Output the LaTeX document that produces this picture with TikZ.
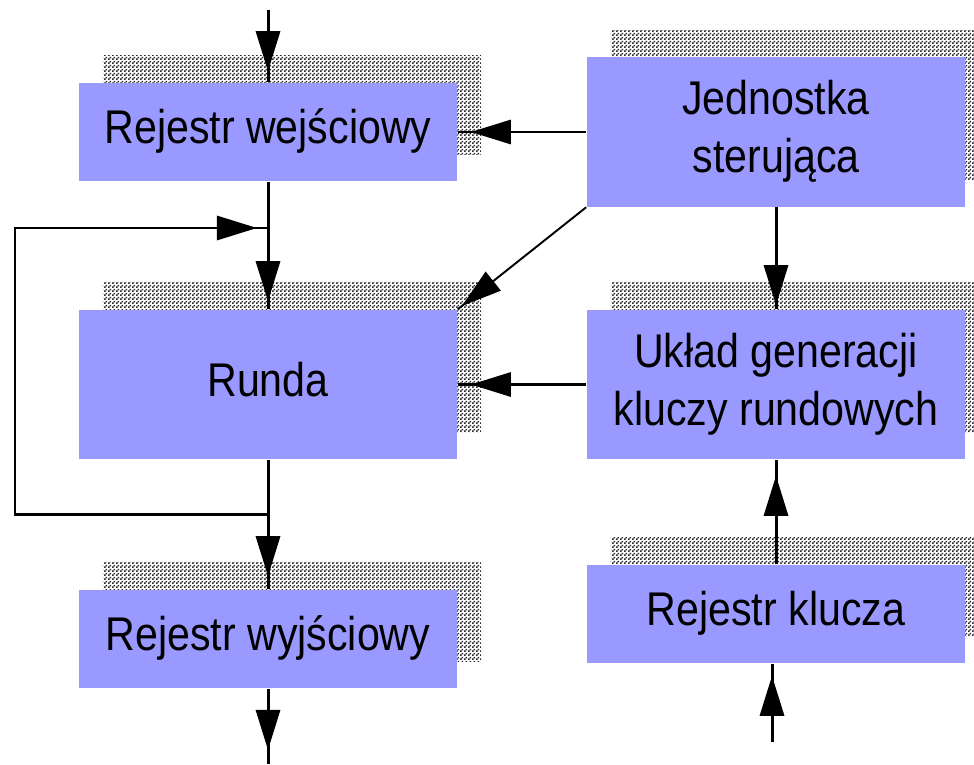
\documentclass[tikz,border=0pt]{standalone}
\usepackage{fontspec}
\setmainfont{Liberation Sans}
\usetikzlibrary{arrows.meta,decorations.markings,shadows,patterns.meta}

\definecolor{boxblue}{RGB}{153,153,255}
% dithered shadow fill
\tikzdeclarepattern{
  name=checker,
  type=uncolored,
  bounding box={(0cm,0cm) and (0.04cm,0.04cm)},
  tile size={(0.04cm,0.04cm)},
  code={\fill (0cm,0cm) rectangle (0.02cm,0.02cm) (0.02cm,0.02cm) rectangle (0.04cm,0.04cm);}
}
\newcommand{\blk}[1]{\scalebox{1}[1.15]{\begin{tabular}{@{}c@{}}#1\end{tabular}}}

\begin{document}
\begin{tikzpicture}[x=0.01cm,y=-0.01cm,>={Triangle[length=0.4cm,width=0.24cm]},
  blok/.style={rectangle,fill=boxblue,inner sep=0pt,minimum width=3.78cm,
    font=\fontsize{11.7pt}{14.4pt}\selectfont,
    general shadow={shadow xshift=0.24cm,shadow yshift=0.27cm,pattern=checker,pattern color=black!85}},
  flow/.style={line width=0.85pt,postaction={decorate},
    decoration={markings,mark=at position #1 with {\arrow{>}}}}]
\useasboundingbox (0,0) rectangle (974,764);
% data path
\node[blok,minimum height=0.98cm] (rwe) at (268,132) {\blk{Rejestr wejściowy}};
\node[blok,minimum height=1.49cm] (runda) at (268,384.5) {\blk{Runda}};
\node[blok,minimum height=0.98cm] (rwy) at (268,639) {\blk{Rejestr wyjściowy}};
% control and keys
\node[blok,minimum height=1.49cm] (ster) at (776,132) {\blk{Jednostka\\sterująca}};
\node[blok,minimum height=1.49cm] (ukl) at (776,384.5) {\blk{Układ generacji\\kluczy rundowych}};
\node[blok,minimum height=0.98cm] (rkl) at (776,614) {\blk{Rejestr klucza}};
\coordinate (in) at (268,10);
\coordinate (out) at (268,764);
\coordinate (kin) at (772,742);
\coordinate (split) at (268,514);
\coordinate (join) at (268,228);
\draw[flow=-0.11cm] (in) -- (rwe.north);
\draw[flow=-0.08cm] (rwe.south) -- (runda.north);
\draw[flow=-0.13cm] (runda.south) -- (rwy.north);
\draw[flow=-0.14cm] (rwy.south) -- (out);
% feedback loop
\draw[flow=-0.11cm] (split) -- (15,514) |- (join);
\draw[flow=-0.13cm] (ster.west) -- (rwe.east);
\draw[flow=-0.04cm] (ster.south) -- (ukl.north);
\draw[flow=-0.05cm,line width=0.55pt] (ster.south west) -- (runda.north east);
\draw[flow=-0.13cm] (ukl.west) -- (runda.east);
\draw[flow=-0.16cm] (rkl.north) -- (ukl.south);
\draw[flow=-0.12cm] (kin) -- (kin |- rkl.south);
\end{tikzpicture}
\end{document}
